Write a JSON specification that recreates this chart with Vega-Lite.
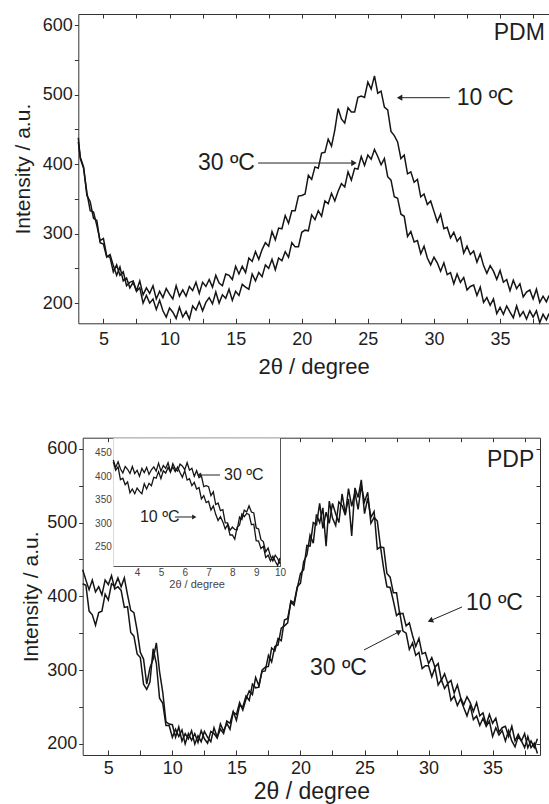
{
"$schema": "https://vega.github.io/schema/vega-lite/v6.json",
"width": 549, "height": 804, "padding": 0, "autosize": {"type": "none"},
"background": "white",
"config": {
 "view": {"stroke": null},
 "axis": {"labelFont": "Liberation Sans", "titleFont": "Liberation Sans", "titleFontWeight": "normal", "domainColor": "#333333", "tickColor": "#333333", "labelColor": "#1e1e1e", "titleColor": "#1e1e1e", "grid": false, "zindex": 1, "domainWidth": 1, "tickWidth": 1, "labelOverlap": false, "labelFlush": false},
 "text": {"font": "Liberation Sans", "color": "#1e1e1e"}
},
"datasets": {
"pdm": [
{"s":"10","x":3.1,"y":438},{"s":"10","x":3.25,"y":408},{"s":"10","x":3.5,"y":394},{"s":"10","x":3.75,"y":359},{"s":"10","x":4,"y":333},{"s":"10","x":4.25,"y":331},{"s":"10","x":4.5,"y":312},{"s":"10","x":4.75,"y":290},{"s":"10","x":5,"y":293},{"s":"10","x":5.25,"y":268},{"s":"10","x":5.5,"y":266},{"s":"10","x":5.75,"y":245},{"s":"10","x":6,"y":255},{"s":"10","x":6.25,"y":240},{"s":"10","x":6.5,"y":245},{"s":"10","x":6.75,"y":225},{"s":"10","x":7,"y":230},{"s":"10","x":7.25,"y":232},{"s":"10","x":7.5,"y":218},{"s":"10","x":7.75,"y":232},{"s":"10","x":8,"y":212},{"s":"10","x":8.25,"y":222},{"s":"10","x":8.5,"y":214},{"s":"10","x":8.75,"y":225},{"s":"10","x":9,"y":206},{"s":"10","x":9.25,"y":217},{"s":"10","x":9.5,"y":208},{"s":"10","x":9.75,"y":221},{"s":"10","x":10,"y":213},{"s":"10","x":10.25,"y":206},{"s":"10","x":10.5,"y":225},{"s":"10","x":10.75,"y":210},{"s":"10","x":11,"y":219},{"s":"10","x":11.25,"y":210},{"s":"10","x":11.5,"y":224},{"s":"10","x":11.75,"y":218},{"s":"10","x":12,"y":230},{"s":"10","x":12.25,"y":214},{"s":"10","x":12.5,"y":230},{"s":"10","x":12.75,"y":224},{"s":"10","x":13,"y":234},{"s":"10","x":13.25,"y":223},{"s":"10","x":13.5,"y":240},{"s":"10","x":13.75,"y":229},{"s":"10","x":14,"y":225},{"s":"10","x":14.25,"y":242},{"s":"10","x":14.5,"y":240},{"s":"10","x":14.75,"y":234},{"s":"10","x":15,"y":253},{"s":"10","x":15.25,"y":242},{"s":"10","x":15.5,"y":253},{"s":"10","x":15.75,"y":244},{"s":"10","x":16,"y":265},{"s":"10","x":16.25,"y":260},{"s":"10","x":16.5,"y":274},{"s":"10","x":16.75,"y":263},{"s":"10","x":17,"y":277},{"s":"10","x":17.25,"y":287},{"s":"10","x":17.5,"y":282},{"s":"10","x":17.75,"y":303},{"s":"10","x":18,"y":291},{"s":"10","x":18.25,"y":308},{"s":"10","x":18.5,"y":307},{"s":"10","x":18.75,"y":326},{"s":"10","x":19,"y":315},{"s":"10","x":19.25,"y":333},{"s":"10","x":19.5,"y":333},{"s":"10","x":19.75,"y":354},{"s":"10","x":20,"y":355},{"s":"10","x":20.25,"y":357},{"s":"10","x":20.5,"y":384},{"s":"10","x":20.75,"y":378},{"s":"10","x":21,"y":396},{"s":"10","x":21.25,"y":394},{"s":"10","x":21.5,"y":416},{"s":"10","x":21.75,"y":417},{"s":"10","x":22,"y":436},{"s":"10","x":22.25,"y":426},{"s":"10","x":22.5,"y":449},{"s":"10","x":22.75,"y":480},{"s":"10","x":23,"y":465},{"s":"10","x":23.25,"y":459},{"s":"10","x":23.5,"y":481},{"s":"10","x":23.75,"y":475},{"s":"10","x":24,"y":475},{"s":"10","x":24.25,"y":496},{"s":"10","x":24.5,"y":498},{"s":"10","x":24.75,"y":496},{"s":"10","x":25,"y":518},{"s":"10","x":25.25,"y":508},{"s":"10","x":25.5,"y":527},{"s":"10","x":25.75,"y":502},{"s":"10","x":26,"y":505},{"s":"10","x":26.25,"y":482},{"s":"10","x":26.5,"y":478},{"s":"10","x":26.75,"y":447},{"s":"10","x":27,"y":441},{"s":"10","x":27.25,"y":432},{"s":"10","x":27.5,"y":408},{"s":"10","x":27.75,"y":413},{"s":"10","x":28,"y":386},{"s":"10","x":28.25,"y":389},{"s":"10","x":28.5,"y":374},{"s":"10","x":28.75,"y":378},{"s":"10","x":29,"y":353},{"s":"10","x":29.25,"y":357},{"s":"10","x":29.5,"y":342},{"s":"10","x":29.75,"y":347},{"s":"10","x":30,"y":332},{"s":"10","x":30.25,"y":317},{"s":"10","x":30.5,"y":328},{"s":"10","x":30.75,"y":307},{"s":"10","x":31,"y":309},{"s":"10","x":31.25,"y":294},{"s":"10","x":31.5,"y":302},{"s":"10","x":31.75,"y":289},{"s":"10","x":32,"y":295},{"s":"10","x":32.25,"y":272},{"s":"10","x":32.5,"y":282},{"s":"10","x":32.75,"y":270},{"s":"10","x":33,"y":275},{"s":"10","x":33.25,"y":259},{"s":"10","x":33.5,"y":271},{"s":"10","x":33.75,"y":254},{"s":"10","x":34,"y":243},{"s":"10","x":34.25,"y":254},{"s":"10","x":34.5,"y":246},{"s":"10","x":34.75,"y":234},{"s":"10","x":35,"y":247},{"s":"10","x":35.25,"y":230},{"s":"10","x":35.5,"y":234},{"s":"10","x":35.75,"y":218},{"s":"10","x":36,"y":233},{"s":"10","x":36.25,"y":221},{"s":"10","x":36.5,"y":228},{"s":"10","x":36.75,"y":209},{"s":"10","x":37,"y":216},{"s":"10","x":37.25,"y":219},{"s":"10","x":37.5,"y":206},{"s":"10","x":37.75,"y":220},{"s":"10","x":38,"y":201},{"s":"10","x":38.25,"y":210},{"s":"10","x":38.5,"y":202},{"s":"10","x":38.7,"y":211},
{"s":"30","x":3.1,"y":432},{"s":"30","x":3.25,"y":410},{"s":"30","x":3.5,"y":396},{"s":"30","x":3.75,"y":355},{"s":"30","x":4,"y":346},{"s":"30","x":4.25,"y":322},{"s":"30","x":4.5,"y":319},{"s":"30","x":4.75,"y":287},{"s":"30","x":5,"y":285},{"s":"30","x":5.25,"y":266},{"s":"30","x":5.5,"y":270},{"s":"30","x":5.75,"y":254},{"s":"30","x":6,"y":240},{"s":"30","x":6.25,"y":252},{"s":"30","x":6.5,"y":232},{"s":"30","x":6.75,"y":236},{"s":"30","x":7,"y":222},{"s":"30","x":7.25,"y":230},{"s":"30","x":7.5,"y":217},{"s":"30","x":7.75,"y":222},{"s":"30","x":8,"y":200},{"s":"30","x":8.25,"y":211},{"s":"30","x":8.5,"y":200},{"s":"30","x":8.75,"y":206},{"s":"30","x":9,"y":191},{"s":"30","x":9.25,"y":204},{"s":"30","x":9.5,"y":189},{"s":"30","x":9.75,"y":180},{"s":"30","x":10,"y":193},{"s":"30","x":10.25,"y":187},{"s":"30","x":10.5,"y":178},{"s":"30","x":10.75,"y":194},{"s":"30","x":11,"y":180},{"s":"30","x":11.25,"y":188},{"s":"30","x":11.5,"y":177},{"s":"30","x":11.75,"y":196},{"s":"30","x":12,"y":190},{"s":"30","x":12.25,"y":202},{"s":"30","x":12.5,"y":189},{"s":"30","x":12.75,"y":201},{"s":"30","x":13,"y":208},{"s":"30","x":13.25,"y":199},{"s":"30","x":13.5,"y":216},{"s":"30","x":13.75,"y":200},{"s":"30","x":14,"y":212},{"s":"30","x":14.25,"y":207},{"s":"30","x":14.5,"y":220},{"s":"30","x":14.75,"y":204},{"s":"30","x":15,"y":217},{"s":"30","x":15.25,"y":211},{"s":"30","x":15.5,"y":227},{"s":"30","x":15.75,"y":223},{"s":"30","x":16,"y":220},{"s":"30","x":16.25,"y":242},{"s":"30","x":16.5,"y":232},{"s":"30","x":16.75,"y":244},{"s":"30","x":17,"y":238},{"s":"30","x":17.25,"y":255},{"s":"30","x":17.5,"y":250},{"s":"30","x":17.75,"y":263},{"s":"30","x":18,"y":248},{"s":"30","x":18.25,"y":265},{"s":"30","x":18.5,"y":261},{"s":"30","x":18.75,"y":274},{"s":"30","x":19,"y":266},{"s":"30","x":19.25,"y":287},{"s":"30","x":19.5,"y":281},{"s":"30","x":19.75,"y":281},{"s":"30","x":20,"y":302},{"s":"30","x":20.25,"y":305},{"s":"30","x":20.5,"y":304},{"s":"30","x":20.75,"y":327},{"s":"30","x":21,"y":320},{"s":"30","x":21.25,"y":333},{"s":"30","x":21.5,"y":325},{"s":"30","x":21.75,"y":347},{"s":"30","x":22,"y":343},{"s":"30","x":22.25,"y":358},{"s":"30","x":22.5,"y":347},{"s":"30","x":22.75,"y":361},{"s":"30","x":23,"y":372},{"s":"30","x":23.25,"y":367},{"s":"30","x":23.5,"y":389},{"s":"30","x":23.75,"y":377},{"s":"30","x":24,"y":394},{"s":"30","x":24.25,"y":393},{"s":"30","x":24.5,"y":411},{"s":"30","x":24.75,"y":398},{"s":"30","x":25,"y":413},{"s":"30","x":25.25,"y":407},{"s":"30","x":25.5,"y":421},{"s":"30","x":25.75,"y":411},{"s":"30","x":26,"y":399},{"s":"30","x":26.25,"y":408},{"s":"30","x":26.5,"y":382},{"s":"30","x":26.75,"y":377},{"s":"30","x":27,"y":353},{"s":"30","x":27.25,"y":351},{"s":"30","x":27.5,"y":328},{"s":"30","x":27.75,"y":325},{"s":"30","x":28,"y":296},{"s":"30","x":28.25,"y":303},{"s":"30","x":28.5,"y":288},{"s":"30","x":28.75,"y":290},{"s":"30","x":29,"y":271},{"s":"30","x":29.25,"y":282},{"s":"30","x":29.5,"y":265},{"s":"30","x":29.75,"y":255},{"s":"30","x":30,"y":266},{"s":"30","x":30.25,"y":258},{"s":"30","x":30.5,"y":246},{"s":"30","x":30.75,"y":258},{"s":"30","x":31,"y":241},{"s":"30","x":31.25,"y":244},{"s":"30","x":31.5,"y":228},{"s":"30","x":31.75,"y":242},{"s":"30","x":32,"y":230},{"s":"30","x":32.25,"y":237},{"s":"30","x":32.5,"y":219},{"s":"30","x":32.75,"y":224},{"s":"30","x":33,"y":226},{"s":"30","x":33.25,"y":211},{"s":"30","x":33.5,"y":223},{"s":"30","x":33.75,"y":201},{"s":"30","x":34,"y":208},{"s":"30","x":34.25,"y":197},{"s":"30","x":34.5,"y":206},{"s":"30","x":34.75,"y":185},{"s":"30","x":35,"y":194},{"s":"30","x":35.25,"y":184},{"s":"30","x":35.5,"y":196},{"s":"30","x":35.75,"y":187},{"s":"30","x":36,"y":179},{"s":"30","x":36.25,"y":196},{"s":"30","x":36.5,"y":181},{"s":"30","x":36.75,"y":188},{"s":"30","x":37,"y":177},{"s":"30","x":37.25,"y":189},{"s":"30","x":37.5,"y":180},{"s":"30","x":37.75,"y":189},{"s":"30","x":38,"y":172},{"s":"30","x":38.25,"y":184},{"s":"30","x":38.5,"y":176},{"s":"30","x":38.7,"y":185}
],
"pdp": [
{"s":"10","x":3,"y":436},{"s":"10","x":3.25,"y":422},{"s":"10","x":3.5,"y":409},{"s":"10","x":3.75,"y":422},{"s":"10","x":4,"y":406},{"s":"10","x":4.25,"y":413},{"s":"10","x":4.5,"y":402},{"s":"10","x":4.75,"y":422},{"s":"10","x":5,"y":416},{"s":"10","x":5.25,"y":428},{"s":"10","x":5.5,"y":410},{"s":"10","x":5.75,"y":413},{"s":"10","x":6,"y":408},{"s":"10","x":6.25,"y":385},{"s":"10","x":6.5,"y":386},{"s":"10","x":6.75,"y":351},{"s":"10","x":7,"y":346},{"s":"10","x":7.25,"y":322},{"s":"10","x":7.5,"y":317},{"s":"10","x":7.75,"y":281},{"s":"10","x":8,"y":274},{"s":"10","x":8.25,"y":284},{"s":"10","x":8.5,"y":329},{"s":"10","x":8.75,"y":309},{"s":"10","x":9,"y":262},{"s":"10","x":9.25,"y":255},{"s":"10","x":9.5,"y":225},{"s":"10","x":9.75,"y":225},{"s":"10","x":10,"y":209},{"s":"10","x":10.25,"y":220},{"s":"10","x":10.5,"y":210},{"s":"10","x":10.75,"y":219},{"s":"10","x":11,"y":200},{"s":"10","x":11.25,"y":214},{"s":"10","x":11.5,"y":205},{"s":"10","x":11.75,"y":214},{"s":"10","x":12,"y":202},{"s":"10","x":12.25,"y":218},{"s":"10","x":12.5,"y":207},{"s":"10","x":12.75,"y":201},{"s":"10","x":13,"y":217},{"s":"10","x":13.25,"y":214},{"s":"10","x":13.5,"y":208},{"s":"10","x":13.75,"y":227},{"s":"10","x":14,"y":217},{"s":"10","x":14.25,"y":228},{"s":"10","x":14.5,"y":220},{"s":"10","x":14.75,"y":243},{"s":"10","x":15,"y":240},{"s":"10","x":15.25,"y":256},{"s":"10","x":15.5,"y":246},{"s":"10","x":15.75,"y":261},{"s":"10","x":16,"y":272},{"s":"10","x":16.25,"y":267},{"s":"10","x":16.5,"y":290},{"s":"10","x":16.75,"y":279},{"s":"10","x":17,"y":298},{"s":"10","x":17.25,"y":299},{"s":"10","x":17.5,"y":320},{"s":"10","x":17.75,"y":311},{"s":"10","x":18,"y":332},{"s":"10","x":18.25,"y":334},{"s":"10","x":18.5,"y":357},{"s":"10","x":18.75,"y":360},{"s":"10","x":19,"y":364},{"s":"10","x":19.25,"y":394},{"s":"10","x":19.5,"y":391},{"s":"10","x":19.75,"y":413},{"s":"10","x":20,"y":418},{"s":"10","x":20.25,"y":447},{"s":"10","x":20.5,"y":456},{"s":"10","x":20.75,"y":483},{"s":"10","x":21,"y":472},{"s":"10","x":21.25,"y":511},{"s":"10","x":21.5,"y":500},{"s":"10","x":21.75,"y":520},{"s":"10","x":22,"y":468},{"s":"10","x":22.25,"y":529},{"s":"10","x":22.5,"y":506},{"s":"10","x":22.75,"y":496},{"s":"10","x":23,"y":528},{"s":"10","x":23.25,"y":523},{"s":"10","x":23.5,"y":510},{"s":"10","x":23.75,"y":546},{"s":"10","x":24,"y":522},{"s":"10","x":24.25,"y":541},{"s":"10","x":24.5,"y":518},{"s":"10","x":24.75,"y":550},{"s":"10","x":25,"y":528},{"s":"10","x":25.25,"y":541},{"s":"10","x":25.5,"y":499},{"s":"10","x":25.75,"y":507},{"s":"10","x":26,"y":502},{"s":"10","x":26.25,"y":467},{"s":"10","x":26.5,"y":466},{"s":"10","x":26.75,"y":431},{"s":"10","x":27,"y":426},{"s":"10","x":27.25,"y":405},{"s":"10","x":27.5,"y":405},{"s":"10","x":27.75,"y":376},{"s":"10","x":28,"y":377},{"s":"10","x":28.25,"y":360},{"s":"10","x":28.5,"y":364},{"s":"10","x":28.75,"y":347},{"s":"10","x":29,"y":332},{"s":"10","x":29.25,"y":343},{"s":"10","x":29.5,"y":322},{"s":"10","x":29.75,"y":324},{"s":"10","x":30,"y":309},{"s":"10","x":30.25,"y":317},{"s":"10","x":30.5,"y":304},{"s":"10","x":30.75,"y":309},{"s":"10","x":31,"y":286},{"s":"10","x":31.25,"y":295},{"s":"10","x":31.5,"y":282},{"s":"10","x":31.75,"y":286},{"s":"10","x":32,"y":269},{"s":"10","x":32.25,"y":280},{"s":"10","x":32.5,"y":263},{"s":"10","x":32.75,"y":253},{"s":"10","x":33,"y":264},{"s":"10","x":33.25,"y":256},{"s":"10","x":33.5,"y":244},{"s":"10","x":33.75,"y":256},{"s":"10","x":34,"y":238},{"s":"10","x":34.25,"y":242},{"s":"10","x":34.5,"y":226},{"s":"10","x":34.75,"y":240},{"s":"10","x":35,"y":228},{"s":"10","x":35.25,"y":235},{"s":"10","x":35.5,"y":216},{"s":"10","x":35.75,"y":222},{"s":"10","x":36,"y":224},{"s":"10","x":36.25,"y":210},{"s":"10","x":36.5,"y":224},{"s":"10","x":36.75,"y":204},{"s":"10","x":37,"y":213},{"s":"10","x":37.25,"y":204},{"s":"10","x":37.5,"y":214},{"s":"10","x":37.75,"y":195},{"s":"10","x":38,"y":204},{"s":"10","x":38.25,"y":195},{"s":"10","x":38.5,"y":207},
{"s":"30","x":3,"y":417},{"s":"30","x":3.25,"y":415},{"s":"30","x":3.5,"y":380},{"s":"30","x":3.75,"y":375},{"s":"30","x":4,"y":361},{"s":"30","x":4.25,"y":378},{"s":"30","x":4.5,"y":380},{"s":"30","x":4.75,"y":403},{"s":"30","x":5,"y":395},{"s":"30","x":5.25,"y":417},{"s":"30","x":5.5,"y":414},{"s":"30","x":5.75,"y":425},{"s":"30","x":6,"y":413},{"s":"30","x":6.25,"y":425},{"s":"30","x":6.5,"y":402},{"s":"30","x":6.75,"y":381},{"s":"30","x":7,"y":378},{"s":"30","x":7.25,"y":354},{"s":"30","x":7.5,"y":324},{"s":"30","x":7.75,"y":315},{"s":"30","x":8,"y":281},{"s":"30","x":8.25,"y":303},{"s":"30","x":8.5,"y":315},{"s":"30","x":8.75,"y":337},{"s":"30","x":9,"y":298},{"s":"30","x":9.25,"y":270},{"s":"30","x":9.5,"y":230},{"s":"30","x":9.75,"y":227},{"s":"30","x":10,"y":226},{"s":"30","x":10.25,"y":209},{"s":"30","x":10.5,"y":223},{"s":"30","x":10.75,"y":204},{"s":"30","x":11,"y":214},{"s":"30","x":11.25,"y":207},{"s":"30","x":11.5,"y":218},{"s":"30","x":11.75,"y":200},{"s":"30","x":12,"y":211},{"s":"30","x":12.25,"y":203},{"s":"30","x":12.5,"y":217},{"s":"30","x":12.75,"y":209},{"s":"30","x":13,"y":203},{"s":"30","x":13.25,"y":222},{"s":"30","x":13.5,"y":209},{"s":"30","x":13.75,"y":220},{"s":"30","x":14,"y":214},{"s":"30","x":14.25,"y":231},{"s":"30","x":14.5,"y":228},{"s":"30","x":14.75,"y":244},{"s":"30","x":15,"y":232},{"s":"30","x":15.25,"y":252},{"s":"30","x":15.5,"y":250},{"s":"30","x":15.75,"y":265},{"s":"30","x":16,"y":259},{"s":"30","x":16.25,"y":281},{"s":"30","x":16.5,"y":276},{"s":"30","x":16.75,"y":277},{"s":"30","x":17,"y":300},{"s":"30","x":17.25,"y":304},{"s":"30","x":17.5,"y":305},{"s":"30","x":17.75,"y":330},{"s":"30","x":18,"y":326},{"s":"30","x":18.25,"y":343},{"s":"30","x":18.5,"y":340},{"s":"30","x":18.75,"y":368},{"s":"30","x":19,"y":370},{"s":"30","x":19.25,"y":392},{"s":"30","x":19.5,"y":388},{"s":"30","x":19.75,"y":411},{"s":"30","x":20,"y":431},{"s":"30","x":20.25,"y":436},{"s":"30","x":20.5,"y":469},{"s":"30","x":20.75,"y":468},{"s":"30","x":21,"y":500},{"s":"30","x":21.25,"y":497},{"s":"30","x":21.5,"y":526},{"s":"30","x":21.75,"y":492},{"s":"30","x":22,"y":514},{"s":"30","x":22.25,"y":499},{"s":"30","x":22.5,"y":526},{"s":"30","x":22.75,"y":512},{"s":"30","x":23,"y":500},{"s":"30","x":23.25,"y":539},{"s":"30","x":23.5,"y":512},{"s":"30","x":23.75,"y":532},{"s":"30","x":24,"y":482},{"s":"30","x":24.25,"y":547},{"s":"30","x":24.5,"y":534},{"s":"30","x":24.75,"y":558},{"s":"30","x":25,"y":512},{"s":"30","x":25.25,"y":533},{"s":"30","x":25.5,"y":507},{"s":"30","x":25.75,"y":515},{"s":"30","x":26,"y":464},{"s":"30","x":26.25,"y":467},{"s":"30","x":26.5,"y":437},{"s":"30","x":26.75,"y":413},{"s":"30","x":27,"y":412},{"s":"30","x":27.25,"y":394},{"s":"30","x":27.5,"y":374},{"s":"30","x":27.75,"y":378},{"s":"30","x":28,"y":353},{"s":"30","x":28.25,"y":350},{"s":"30","x":28.5,"y":328},{"s":"30","x":28.75,"y":337},{"s":"30","x":29,"y":320},{"s":"30","x":29.25,"y":324},{"s":"30","x":29.5,"y":302},{"s":"30","x":29.75,"y":306},{"s":"30","x":30,"y":306},{"s":"30","x":30.25,"y":291},{"s":"30","x":30.5,"y":303},{"s":"30","x":30.75,"y":280},{"s":"30","x":31,"y":287},{"s":"30","x":31.25,"y":275},{"s":"30","x":31.5,"y":282},{"s":"30","x":31.75,"y":259},{"s":"30","x":32,"y":265},{"s":"30","x":32.25,"y":252},{"s":"30","x":32.5,"y":261},{"s":"30","x":32.75,"y":249},{"s":"30","x":33,"y":238},{"s":"30","x":33.25,"y":252},{"s":"30","x":33.5,"y":233},{"s":"30","x":33.75,"y":238},{"s":"30","x":34,"y":225},{"s":"30","x":34.25,"y":235},{"s":"30","x":34.5,"y":224},{"s":"30","x":34.75,"y":231},{"s":"30","x":35,"y":210},{"s":"30","x":35.25,"y":222},{"s":"30","x":35.5,"y":212},{"s":"30","x":35.75,"y":218},{"s":"30","x":36,"y":204},{"s":"30","x":36.25,"y":218},{"s":"30","x":36.5,"y":204},{"s":"30","x":36.75,"y":196},{"s":"30","x":37,"y":210},{"s":"30","x":37.25,"y":204},{"s":"30","x":37.5,"y":195},{"s":"30","x":37.75,"y":210},{"s":"30","x":38,"y":195},{"s":"30","x":38.25,"y":201},{"s":"30","x":38.5,"y":187}
],
"inset": [
{"s":"10","x":3.0,"y":435},{"s":"10","x":3.1,"y":419},{"s":"10","x":3.2,"y":431},{"s":"10","x":3.3,"y":416},{"s":"10","x":3.4,"y":407},{"s":"10","x":3.5,"y":421},{"s":"10","x":3.6,"y":415},{"s":"10","x":3.7,"y":406},{"s":"10","x":3.8,"y":421},{"s":"10","x":3.9,"y":406},{"s":"10","x":4.0,"y":413},{"s":"10","x":4.1,"y":400},{"s":"10","x":4.2,"y":417},{"s":"10","x":4.3,"y":408},{"s":"10","x":4.4,"y":419},{"s":"10","x":4.5,"y":404},{"s":"10","x":4.6,"y":414},{"s":"10","x":4.7,"y":420},{"s":"10","x":4.8,"y":411},{"s":"10","x":4.9,"y":428},{"s":"10","x":5.0,"y":411},{"s":"10","x":5.1,"y":423},{"s":"10","x":5.2,"y":417},{"s":"10","x":5.3,"y":429},{"s":"10","x":5.4,"y":410},{"s":"10","x":5.5,"y":420},{"s":"10","x":5.6,"y":410},{"s":"10","x":5.7,"y":420},{"s":"10","x":5.8,"y":408},{"s":"10","x":5.9,"y":398},{"s":"10","x":6.0,"y":412},{"s":"10","x":6.1,"y":392},{"s":"10","x":6.2,"y":395},{"s":"10","x":6.3,"y":380},{"s":"10","x":6.4,"y":387},{"s":"10","x":6.5,"y":373},{"s":"10","x":6.6,"y":376},{"s":"10","x":6.7,"y":352},{"s":"10","x":6.8,"y":359},{"s":"10","x":6.9,"y":344},{"s":"10","x":7.0,"y":347},{"s":"10","x":7.1,"y":328},{"s":"10","x":7.2,"y":337},{"s":"10","x":7.3,"y":319},{"s":"10","x":7.4,"y":306},{"s":"10","x":7.5,"y":314},{"s":"10","x":7.6,"y":303},{"s":"10","x":7.7,"y":288},{"s":"10","x":7.8,"y":297},{"s":"10","x":7.9,"y":275},{"s":"10","x":8.0,"y":275},{"s":"10","x":8.1,"y":266},{"s":"10","x":8.2,"y":292},{"s":"10","x":8.3,"y":296},{"s":"10","x":8.4,"y":320},{"s":"10","x":8.5,"y":314},{"s":"10","x":8.6,"y":321},{"s":"10","x":8.7,"y":319},{"s":"10","x":8.8,"y":297},{"s":"10","x":8.9,"y":298},{"s":"10","x":9.0,"y":263},{"s":"10","x":9.1,"y":262},{"s":"10","x":9.2,"y":246},{"s":"10","x":9.3,"y":251},{"s":"10","x":9.4,"y":227},{"s":"10","x":9.5,"y":232},{"s":"10","x":9.6,"y":220},{"s":"10","x":9.7,"y":230},{"s":"10","x":9.8,"y":219},{"s":"10","x":9.9,"y":210},{"s":"10","x":10.0,"y":226},
{"s":"30","x":3.0,"y":431},{"s":"30","x":3.1,"y":413},{"s":"30","x":3.2,"y":420},{"s":"30","x":3.3,"y":393},{"s":"30","x":3.4,"y":396},{"s":"30","x":3.5,"y":382},{"s":"30","x":3.6,"y":388},{"s":"30","x":3.7,"y":365},{"s":"30","x":3.8,"y":373},{"s":"30","x":3.9,"y":363},{"s":"30","x":4.0,"y":375},{"s":"30","x":4.1,"y":368},{"s":"30","x":4.2,"y":363},{"s":"30","x":4.3,"y":384},{"s":"30","x":4.4,"y":373},{"s":"30","x":4.5,"y":385},{"s":"30","x":4.6,"y":380},{"s":"30","x":4.7,"y":398},{"s":"30","x":4.8,"y":396},{"s":"30","x":4.9,"y":410},{"s":"30","x":5.0,"y":395},{"s":"30","x":5.1,"y":412},{"s":"30","x":5.2,"y":407},{"s":"30","x":5.3,"y":419},{"s":"30","x":5.4,"y":409},{"s":"30","x":5.5,"y":427},{"s":"30","x":5.6,"y":416},{"s":"30","x":5.7,"y":411},{"s":"30","x":5.8,"y":426},{"s":"30","x":5.9,"y":422},{"s":"30","x":6.0,"y":414},{"s":"30","x":6.1,"y":429},{"s":"30","x":6.2,"y":413},{"s":"30","x":6.3,"y":417},{"s":"30","x":6.4,"y":400},{"s":"30","x":6.5,"y":412},{"s":"30","x":6.6,"y":397},{"s":"30","x":6.7,"y":401},{"s":"30","x":6.8,"y":378},{"s":"30","x":6.9,"y":380},{"s":"30","x":7.0,"y":378},{"s":"30","x":7.1,"y":359},{"s":"30","x":7.2,"y":367},{"s":"30","x":7.3,"y":340},{"s":"30","x":7.4,"y":343},{"s":"30","x":7.5,"y":327},{"s":"30","x":7.6,"y":329},{"s":"30","x":7.7,"y":301},{"s":"30","x":7.8,"y":301},{"s":"30","x":7.9,"y":285},{"s":"30","x":8.0,"y":292},{"s":"30","x":8.1,"y":287},{"s":"30","x":8.2,"y":286},{"s":"30","x":8.3,"y":313},{"s":"30","x":8.4,"y":308},{"s":"30","x":8.5,"y":328},{"s":"30","x":8.6,"y":324},{"s":"30","x":8.7,"y":337},{"s":"30","x":8.8,"y":324},{"s":"30","x":8.9,"y":322},{"s":"30","x":9.0,"y":290},{"s":"30","x":9.1,"y":288},{"s":"30","x":9.2,"y":265},{"s":"30","x":9.3,"y":261},{"s":"30","x":9.4,"y":239},{"s":"30","x":9.5,"y":247},{"s":"30","x":9.6,"y":230},{"s":"30","x":9.7,"y":220},{"s":"30","x":9.8,"y":232},{"s":"30","x":9.9,"y":225},{"s":"30","x":10.0,"y":214}
],
"ann_top": [{"t":"PDM","x":34.52,"y":588.6},{"t":"10 ºC","x":31.72,"y":495.6},{"t":"30 ºC","x":12.15,"y":401.6}],
"arr_top": [{"s":"10","x":31.2,"y":495.6,"x2":27.4,"y2":495.6},{"s":"30","x":16.7,"y":401.6,"x2":23.95,"y2":401.6}],
"ann_bot": [{"t":"PDP","x":34.56,"y":584.8},{"t":"10 ºC","x":32.92,"y":391},{"t":"30 ºC","x":20.74,"y":302.9}],
"arr_bot": [{"s":"10","x":32.61,"y":385.6,"x2":30.2,"y2":367.5},{"s":"30","x":24.96,"y":327.3,"x2":27.65,"y2":351.6}],
"ann_in": [{"t":"30 ºC","x":7.65,"y":402.8},{"t":"10 ºC","x":4.12,"y":313.4}],
"arr_in": [{"s":"30","x":7.48,"y":402.8,"x2":6.6,"y2":402.8},{"s":"10","x":5.59,"y":313.4,"x2":6.4,"y2":313.4}]
},
"resolve": {"scale": {"x": "independent", "y": "independent"}, "axis": {"x": "independent", "y": "independent"}},
"layer": [
{
 "data": {"name": "pdm"},
 "mark": {"type": "line", "stroke": "#151515", "strokeWidth": 1.5},
 "encoding": {
  "x": {"field": "x", "type": "quantitative", "scale": {"domain": [3.1, 38.7], "range": [78.3, 549], "nice": false, "zero": false},
        "axis": {"orient": "bottom", "offset": -480.7, "values": [5,7.5,10,12.5,15,17.5,20,22.5,25,27.5,30,32.5,35,37.5], "labelExpr": "datum.value % 5 === 0 ? format(datum.value, 'd') : ''", "title": "2θ / degree", "tickSize": -5, "labelPadding": 12, "labelFontSize": 18, "titleFontSize": 22, "titlePadding": 8}},
  "y": {"field": "y", "type": "quantitative", "scale": {"domain": [171, 616], "range": [323.3, 14], "nice": false, "zero": false},
        "axis": {"orient": "left", "offset": -78.3, "values": [200,250,300,350,400,450,500,550,600], "labelExpr": "datum.value % 100 === 0 ? format(datum.value, 'd') : ''", "title": "Intensity / a.u.", "tickSize": 4, "labelPadding": 2, "labelFontSize": 18, "titleFontSize": 21, "titlePadding": 9}},
  "detail": {"field": "s", "type": "nominal"}
 }
},
{
 "data": {"name": "ann_top"},
 "mark": {"type": "text", "align": "left", "baseline": "middle", "fontSize": 23},
 "encoding": {
  "x": {"field": "x", "type": "quantitative", "scale": {"domain": [3.1, 38.7], "range": [78.3, 549], "nice": false, "zero": false},
        "axis": {"orient": "top", "offset": -14, "values": [5,7.5,10,12.5,15,17.5,20,22.5,25,27.5,30,32.5,35,37.5], "labels": false, "title": null, "tickSize": -4}},
  "y": {"field": "y", "type": "quantitative", "scale": {"domain": [171, 616], "range": [323.3, 14], "nice": false, "zero": false}, "axis": null},
  "text": {"field": "t"}
 }
},
{
 "data": {"name": "arr_top"},
 "mark": {"type": "rule", "stroke": "#222222", "strokeWidth": 1},
 "encoding": {
  "x": {"field": "x", "type": "quantitative", "scale": {"domain": [3.1, 38.7], "range": [78.3, 549], "nice": false, "zero": false}, "axis": null},
  "y": {"field": "y", "type": "quantitative", "scale": {"domain": [171, 616], "range": [323.3, 14], "nice": false, "zero": false}, "axis": null},
  "x2": {"field": "x2"}, "y2": {"field": "y2"}
 }
},
{
 "data": {"name": "arr_top"},
 "transform": [{"filter": {"field": "s", "equal": "10"}}],
 "mark": {"type": "point", "shape": "triangle-left", "filled": true, "color": "#222222", "size": 40, "opacity": 1},
 "encoding": {
  "x": {"field": "x2", "type": "quantitative", "scale": {"domain": [3.1, 38.7], "range": [78.3, 549], "nice": false, "zero": false}, "axis": null},
  "y": {"field": "y2", "type": "quantitative", "scale": {"domain": [171, 616], "range": [323.3, 14], "nice": false, "zero": false}, "axis": null}
 }
},
{
 "data": {"name": "arr_top"},
 "transform": [{"filter": {"field": "s", "equal": "30"}}],
 "mark": {"type": "point", "shape": "triangle-right", "filled": true, "color": "#222222", "size": 40, "opacity": 1},
 "encoding": {
  "x": {"field": "x2", "type": "quantitative", "scale": {"domain": [3.1, 38.7], "range": [78.3, 549], "nice": false, "zero": false}, "axis": null},
  "y": {"field": "y2", "type": "quantitative", "scale": {"domain": [171, 616], "range": [323.3, 14], "nice": false, "zero": false}, "axis": null}
 }
},
{
 "data": {"name": "pdp"},
 "mark": {"type": "line", "stroke": "#151515", "strokeWidth": 1.5},
 "encoding": {
  "x": {"field": "x", "type": "quantitative", "scale": {"domain": [3, 38.7], "range": [82.7, 540], "nice": false, "zero": false},
        "axis": {"orient": "bottom", "offset": -49, "values": [5,7.5,10,12.5,15,17.5,20,22.5,25,27.5,30,32.5,35,37.5], "labelExpr": "datum.value % 5 === 0 ? format(datum.value, 'd') : ''", "title": "2θ / degree", "tickSize": -5, "labelPadding": 9, "labelFontSize": 18, "titleFontSize": 23, "titlePadding": 3}},
  "y": {"field": "y", "type": "quantitative", "scale": {"domain": [185, 615], "range": [755, 437.7], "nice": false, "zero": false},
        "axis": {"orient": "left", "offset": -82.7, "values": [200,250,300,350,400,450,500,550,600], "labelExpr": "datum.value % 100 === 0 ? format(datum.value, 'd') : ''", "title": "Intensity / a.u.", "tickSize": 4, "labelPadding": 2, "labelFontSize": 18, "titleFontSize": 21, "titlePadding": 5}},
  "detail": {"field": "s", "type": "nominal"}
 }
},
{
 "data": {"name": "ann_bot"},
 "mark": {"type": "text", "align": "left", "baseline": "middle", "fontSize": 23},
 "encoding": {
  "x": {"field": "x", "type": "quantitative", "scale": {"domain": [3, 38.7], "range": [82.7, 540], "nice": false, "zero": false},
        "axis": {"orient": "top", "offset": -437.7, "values": [5,7.5,10,12.5,15,17.5,20,22.5,25,27.5,30,32.5,35,37.5], "labels": false, "title": null, "tickSize": -4}},
  "y": {"field": "y", "type": "quantitative", "scale": {"domain": [185, 615], "range": [755, 437.7], "nice": false, "zero": false},
        "axis": {"orient": "right", "offset": -9, "values": [200,250,300,350,400,450,500,550,600], "labels": false, "title": null, "tickSize": -4}},
  "text": {"field": "t"}
 }
},
{
 "data": {"name": "arr_bot"},
 "mark": {"type": "rule", "stroke": "#222222", "strokeWidth": 1},
 "encoding": {
  "x": {"field": "x", "type": "quantitative", "scale": {"domain": [3, 38.7], "range": [82.7, 540], "nice": false, "zero": false}, "axis": null},
  "y": {"field": "y", "type": "quantitative", "scale": {"domain": [185, 615], "range": [755, 437.7], "nice": false, "zero": false}, "axis": null},
  "x2": {"field": "x2"}, "y2": {"field": "y2"}
 }
},
{
 "data": {"name": "arr_bot"},
 "transform": [{"filter": {"field": "s", "equal": "10"}}],
 "mark": {"type": "point", "shape": "triangle", "angle": 245.6, "filled": true, "color": "#222222", "size": 40, "opacity": 1},
 "encoding": {
  "x": {"field": "x2", "type": "quantitative", "scale": {"domain": [3, 38.7], "range": [82.7, 540], "nice": false, "zero": false}, "axis": null},
  "y": {"field": "y2", "type": "quantitative", "scale": {"domain": [185, 615], "range": [755, 437.7], "nice": false, "zero": false}, "axis": null}
 }
},
{
 "data": {"name": "arr_bot"},
 "transform": [{"filter": {"field": "s", "equal": "30"}}],
 "mark": {"type": "point", "shape": "triangle", "angle": 61.6, "filled": true, "color": "#222222", "size": 40, "opacity": 1},
 "encoding": {
  "x": {"field": "x2", "type": "quantitative", "scale": {"domain": [3, 38.7], "range": [82.7, 540], "nice": false, "zero": false}, "axis": null},
  "y": {"field": "y2", "type": "quantitative", "scale": {"domain": [185, 615], "range": [755, 437.7], "nice": false, "zero": false}, "axis": null}
 }
},
{
 "data": {"values": [{}]},
 "mark": {"type": "rect", "fill": "white", "stroke": null},
 "encoding": {
  "x": {"datum": 3, "type": "quantitative", "scale": {"domain": [3, 10], "range": [113.3, 280], "nice": false, "zero": false},
        "axis": {"orient": "bottom", "offset": -238, "values": [3.5,4,4.5,5,5.5,6,6.5,7,7.5,8,8.5,9,9.5,10], "labelExpr": "datum.value % 1 === 0 ? format(datum.value, 'd') : ''", "title": "2θ / degree", "tickSize": -3, "labelPadding": 4, "labelFontSize": 10, "titleFontSize": 11, "titlePadding": 1, "labelColor": "#444444", "titleColor": "#444444", "domainColor": "#555555", "tickColor": "#555555"}},
  "x2": {"datum": 10},
  "y": {"datum": 209, "type": "quantitative", "scale": {"domain": [209, 481], "range": [566, 438.3], "nice": false, "zero": false},
        "axis": {"orient": "left", "offset": -113.3, "values": [225,250,275,300,325,350,375,400,425,450,475], "labelExpr": "datum.value % 50 === 0 ? format(datum.value, 'd') : ''", "title": null, "tickSize": -3, "labelPadding": 5, "labelFontSize": 10, "labelColor": "#444444", "domainColor": "#555555", "tickColor": "#555555"}},
  "y2": {"datum": 481}
 }
},
{
 "data": {"name": "inset"},
 "mark": {"type": "line", "stroke": "#151515", "strokeWidth": 1.3},
 "encoding": {
  "x": {"field": "x", "type": "quantitative", "scale": {"domain": [3, 10], "range": [113.3, 280], "nice": false, "zero": false},
        "axis": {"orient": "top", "offset": -438.3, "values": [3.5,4,4.5,5,5.5,6,6.5,7,7.5,8,8.5,9,9.5], "labels": false, "title": null, "tickSize": -3, "domainColor": "#555555", "tickColor": "#555555"}},
  "y": {"field": "y", "type": "quantitative", "scale": {"domain": [209, 481], "range": [566, 438.3], "nice": false, "zero": false},
        "axis": {"orient": "right", "offset": -269, "values": [225,250,275,300,325,350,375,400,425,450,475], "labels": false, "title": null, "tickSize": -3, "domainColor": "#555555", "tickColor": "#555555"}},
  "detail": {"field": "s", "type": "nominal"}
 }
},
{
 "data": {"name": "ann_in"},
 "mark": {"type": "text", "align": "left", "baseline": "middle", "fontSize": 16},
 "encoding": {
  "x": {"field": "x", "type": "quantitative", "scale": {"domain": [3, 10], "range": [113.3, 280], "nice": false, "zero": false}, "axis": null},
  "y": {"field": "y", "type": "quantitative", "scale": {"domain": [209, 481], "range": [566, 438.3], "nice": false, "zero": false}, "axis": null},
  "text": {"field": "t"}
 }
},
{
 "data": {"name": "arr_in"},
 "mark": {"type": "rule", "stroke": "#222222", "strokeWidth": 1},
 "encoding": {
  "x": {"field": "x", "type": "quantitative", "scale": {"domain": [3, 10], "range": [113.3, 280], "nice": false, "zero": false}, "axis": null},
  "y": {"field": "y", "type": "quantitative", "scale": {"domain": [209, 481], "range": [566, 438.3], "nice": false, "zero": false}, "axis": null},
  "x2": {"field": "x2"}, "y2": {"field": "y2"}
 }
},
{
 "data": {"name": "arr_in"},
 "transform": [{"filter": {"field": "s", "equal": "30"}}],
 "mark": {"type": "point", "shape": "triangle-left", "filled": true, "color": "#222222", "size": 25, "opacity": 1},
 "encoding": {
  "x": {"field": "x2", "type": "quantitative", "scale": {"domain": [3, 10], "range": [113.3, 280], "nice": false, "zero": false}, "axis": null},
  "y": {"field": "y2", "type": "quantitative", "scale": {"domain": [209, 481], "range": [566, 438.3], "nice": false, "zero": false}, "axis": null}
 }
},
{
 "data": {"name": "arr_in"},
 "transform": [{"filter": {"field": "s", "equal": "10"}}],
 "mark": {"type": "point", "shape": "triangle-right", "filled": true, "color": "#222222", "size": 25, "opacity": 1},
 "encoding": {
  "x": {"field": "x2", "type": "quantitative", "scale": {"domain": [3, 10], "range": [113.3, 280], "nice": false, "zero": false}, "axis": null},
  "y": {"field": "y2", "type": "quantitative", "scale": {"domain": [209, 481], "range": [566, 438.3], "nice": false, "zero": false}, "axis": null}
 }
}
]
}
